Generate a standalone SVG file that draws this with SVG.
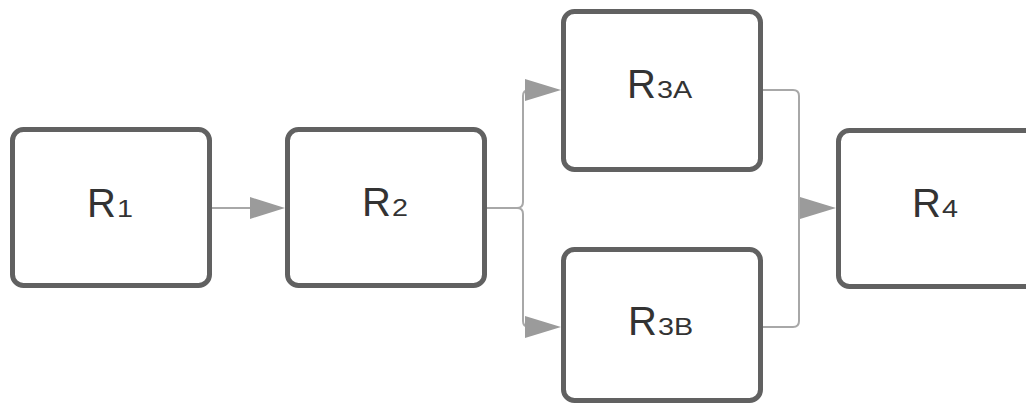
<svg xmlns="http://www.w3.org/2000/svg" width="1026" height="403" viewBox="0 0 1026 403">
  <style>
    .box { fill: #ffffff; stroke: #616161; stroke-width: 5; }
    .wire { fill: none; stroke: #a8a8a8; stroke-width: 2; }
    .head { fill: #9b9b9b; stroke: none; }
    .lbl { font-family: "Liberation Sans", Arial, sans-serif; fill: #333333; font-size: 40px; }
    .sub { font-family: "Liberation Sans", Arial, sans-serif; fill: #333333; font-size: 23px; }
  </style>
  <rect width="1026" height="403" fill="#ffffff"/>

  <g id="connectors">
    <!-- R1 to R2 -->
    <path class="wire" d="M212,208 H252"/>
    <polygon class="head" points="250,197 285,208 250,219"/>
    <!-- R2 splits to R3A and R3B -->
    <path class="wire" d="M487,208 H517 Q523,208 523,202 V96 Q523,90 529,90 H528"/>
    <polygon class="head" points="525,79 561,90 525,101"/>
    <path class="wire" d="M517,208 Q523,208 523,214 V321 Q523,327 529,327"/>
    <polygon class="head" points="525,316 561,327 525,338"/>
    <!-- R3A and R3B join into R4 -->
    <path class="wire" d="M763,90 H793 Q799,90 799,96 V321 Q799,327 793,327 H763"/>
    <polygon class="head" points="800,197 836,208 800,219"/>
  </g>

  <!-- subscripts are drawn a little wide: scaled 1.25 horizontally -->
  <g id="R1">
    <rect class="box" x="12.5" y="129.5" width="197" height="156" rx="11"/>
    <text class="lbl" x="87" y="217">R</text>
    <text class="sub" transform="translate(117,217) scale(1.25,1)">1</text>
  </g>
  <g id="R2">
    <rect class="box" x="287.5" y="129.5" width="197" height="156" rx="11"/>
    <text class="lbl" x="362" y="216">R</text>
    <text class="sub" transform="translate(392,216) scale(1.25,1)">2</text>
  </g>
  <g id="R3A">
    <rect class="box" x="563.5" y="11.5" width="197" height="158" rx="11"/>
    <text class="lbl" x="627" y="98">R</text>
    <text class="sub" transform="translate(657,98) scale(1.25,1)">3A</text>
  </g>
  <g id="R3B">
    <rect class="box" x="563.5" y="249.5" width="197" height="151" rx="11"/>
    <text class="lbl" x="628" y="335">R</text>
    <text class="sub" transform="translate(658,335) scale(1.25,1)">3B</text>
  </g>
  <g id="R4">
    <rect class="box" x="838.5" y="130.5" width="197" height="156" rx="11"/>
    <text class="lbl" x="912" y="217">R</text>
    <text class="sub" transform="translate(942,217) scale(1.25,1)">4</text>
  </g>
</svg>
